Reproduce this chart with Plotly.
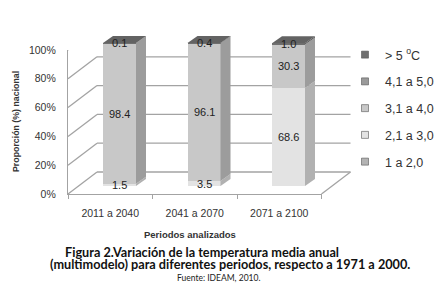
import plotly.graph_objects as go

# ---------------- data ----------------
periods = ["2011 a 2040", "2041 a 2070", "2071 a 2100"]
series_names = ["1 a 2,0", "2,1 a 3,0", "3,1 a 4,0", "4,1 a 5,0", "> 5 <sup>o</sup>C"]
v_1a2 = [0, 0, 0]
v_2a3 = [1.5, 3.5, 68.6]
v_3a4 = [98.4, 96.1, 30.3]
v_4a5 = [0, 0, 0]
v_gt5 = [0.1, 0.4, 1.0]
series_values = [v_1a2, v_2a3, v_3a4, v_4a5, v_gt5]
y_ticks = [0, 20, 40, 60, 80, 100]
y_ticktext = [f"{v}%" for v in y_ticks]
y_title = "Proporción (%) nacional"
x_title = "Periodos analizados"
caption_1 = "Figura 2.Variación de la temperatura media anual"
caption_2 = "(multimodelo) para diferentes periodos, respecto a 1971 a 2000."
source = "Fuente: IDEAM, 2010."

# ---------------- style ----------------
colors = ["#b3b3b3", "#e3e3e3", "#c8c8c8", "#9a9a9a", "#6f6f6f"]
W, H = 439, 304
FONT = "Liberation Sans, Arial, sans-serif"
CAP_FONT = "Lato, Open Sans, sans-serif"
LINE = "#a3a3a3"


def fx(p):
    return p / W


def fy(p):
    return 1 - p / H


def shade(hexc, f):
    r, g, b = int(hexc[1:3], 16), int(hexc[3:5], 16), int(hexc[5:7], 16)
    return "#%02x%02x%02x" % (int(r * f), int(g * f), int(b * f))


# pixel geometry
PXU = 1.43             # pixels per percent on bar front faces
BAR0 = 186             # pixel row of 0 % on bar front faces
CAT = 84.5             # pixels per category
BX0 = 119.5 - CAT / 2  # pixel column of x=-0.5 for bars
bw = 33 / CAT
dx = 10 / CAT
dy = 7 / PXU
y2lo, y2hi = -3, 110

FRONT0, FRONT_X = 194, 68          # front box: 0 % row, axis column
FRONT_PXU = 1.44
DEPX, DEPY = 29, 22                # depth of the box
FRONT_R = FRONT_X + CAT * len(periods)
dep_v = DEPY / FRONT_PXU

fig = go.Figure()

# stacked bars (front faces)
for name, vals, col in zip(series_names, series_values, colors):
    fig.add_trace(go.Bar(x=list(range(len(periods))), y=vals, name=name,
                         marker=dict(color=col, line=dict(width=0)),
                         width=bw, xaxis="x2", yaxis="y2", showlegend=False,
                         hoverinfo="skip"))

# legend entries (top entry = hottest class)
for i in reversed(range(len(series_names))):
    fig.add_trace(go.Scatter(x=[None], y=[None], mode="markers", name=series_names[i],
                             legendgroup=f"g{i}", xaxis="x2", yaxis="y2",
                             marker=dict(symbol="square", size=7, color=colors[i],
                                         line=dict(color="#555", width=0.6))))

# front box subplot (axis lines + labels)
fig.add_trace(go.Scatter(x=[None], y=[None], xaxis="x3", yaxis="y3", showlegend=False,
                         hoverinfo="skip"))

shapes = []
annotations = []
# back wall grid lines and depth lines of the box
for v in y_ticks:
    shapes.append(dict(type="line", xref="paper", yref="y3", layer="below",
                       x0=fx(FRONT_X + DEPX), x1=fx(FRONT_R + DEPX), y0=v + dep_v, y1=v + dep_v,
                       line=dict(color=LINE, width=1.3)))
    shapes.append(dict(type="line", xref="paper", yref="y3", layer="below",
                       x0=fx(FRONT_X), x1=fx(FRONT_X + DEPX), y0=v, y1=v + dep_v,
                       line=dict(color=LINE, width=1.3)))
shapes.append(dict(type="line", xref="paper", yref="y3", layer="below",
                   x0=fx(FRONT_R), x1=fx(FRONT_R + DEPX), y0=0, y1=dep_v,
                   line=dict(color=LINE, width=1.3)))

# 3D side and top faces + value labels
for i in range(len(periods)):
    base = 0
    top_col = None
    for vals, col in zip(series_values, colors):
        v = vals[i]
        if v <= 0:
            continue
        t = base + v
        xr = i + bw / 2
        shapes.append(dict(type="path", xref="x2", yref="y2", layer="above",
                           path=f"M{xr},{base} L{xr+dx},{base+dy} L{xr+dx},{t+dy} L{xr},{t} Z",
                           fillcolor=shade(col, 0.78), line=dict(width=0)))
        annotations.append(dict(x=i, y=base + v / 2, xref="x2", yref="y2", text=f"{v:.1f}",
                                showarrow=False, font=dict(family=FONT, size=11, color="#222")))
        base = t
        top_col = col
    xl = i - bw / 2
    shapes.append(dict(type="path", xref="x2", yref="y2", layer="above",
                       path=f"M{xl},{base} L{xl+bw},{base} L{xl+bw+dx},{base+dy} L{xl+dx},{base+dy} Z",
                       fillcolor=shade(top_col, 0.9), line=dict(width=0)))


def label(x, y, text, font, size, color, **kw):
    return dict(x=fx(x), y=fy(y), xref="paper", yref="paper", text=text,
                xanchor="center", yanchor="middle", showarrow=False,
                font=dict(family=font, size=size, color=color), **kw)


annotations += [
    label(16, 122, f"<b>{y_title}</b>", FONT, 8.8, "#333", textangle=-90),
    label(190, 234, f"<b>{x_title}</b>", FONT, 9.5, "#333"),
    label(202, 252, f"<b>{caption_1}</b>", CAP_FONT, 12.7, "#111"),
    label(230, 264, f"<b>{caption_2}</b>", CAP_FONT, 12.7, "#111"),
    label(218, 278, source, CAP_FONT, 8.5, "#222"),
]

fig.update_layout(
    width=W, height=H, margin=dict(l=0, r=0, t=0, b=0, autoexpand=False),
    paper_bgcolor="white", plot_bgcolor="rgba(0,0,0,0)",
    barmode="stack", showlegend=True,
    # bars
    xaxis2=dict(domain=[fx(BX0), fx(BX0 + CAT * 3)], range=[-0.5, 2.5], anchor="y2",
                showgrid=False, zeroline=False, showline=False, showticklabels=False),
    yaxis2=dict(domain=[fy(BAR0 - y2lo * PXU), fy(BAR0 - y2hi * PXU)], range=[y2lo, y2hi],
                anchor="x2", showgrid=False, zeroline=False, showline=False,
                showticklabels=False),
    # front box axes
    xaxis3=dict(domain=[fx(FRONT_X), fx(FRONT_R)], range=[-0.5, 2.5], anchor="y3",
                tickvals=list(range(len(periods))), ticktext=periods,
                ticks="outside", ticklen=9, tickcolor="rgba(0,0,0,0)",
                minor=dict(tickvals=[-0.5, 0.5, 1.5, 2.5], ticks="outside", ticklen=4,
                           tickcolor=LINE, tickwidth=1.3),
                showline=True, linecolor=LINE, linewidth=1.3,
                showgrid=False, zeroline=False,
                tickfont=dict(family=FONT, size=10.5, color="#333")),
    yaxis3=dict(domain=[fy(FRONT0), fy(FRONT0 - 100 * FRONT_PXU)], range=[0, 100],
                anchor="x3", tickvals=y_ticks, ticktext=y_ticktext,
                ticks="outside", ticklen=9, tickcolor="rgba(0,0,0,0)",
                showline=True, linecolor=LINE, linewidth=1.3,
                showgrid=False, zeroline=False,
                tickfont=dict(family=FONT, size=10.5, color="#333")),
    legend=dict(x=fx(345), y=fy(40), xanchor="left", yanchor="top",
                traceorder="grouped", tracegroupgap=7.5, bgcolor="rgba(0,0,0,0)",
                font=dict(family=FONT, size=12.5, color="#333")),
    shapes=shapes, annotations=annotations,
)

fig.write_html("out.html", config={"displayModeBar": False},
               post_script="document.body.style.margin='0';document.body.style.overflow='hidden';")
